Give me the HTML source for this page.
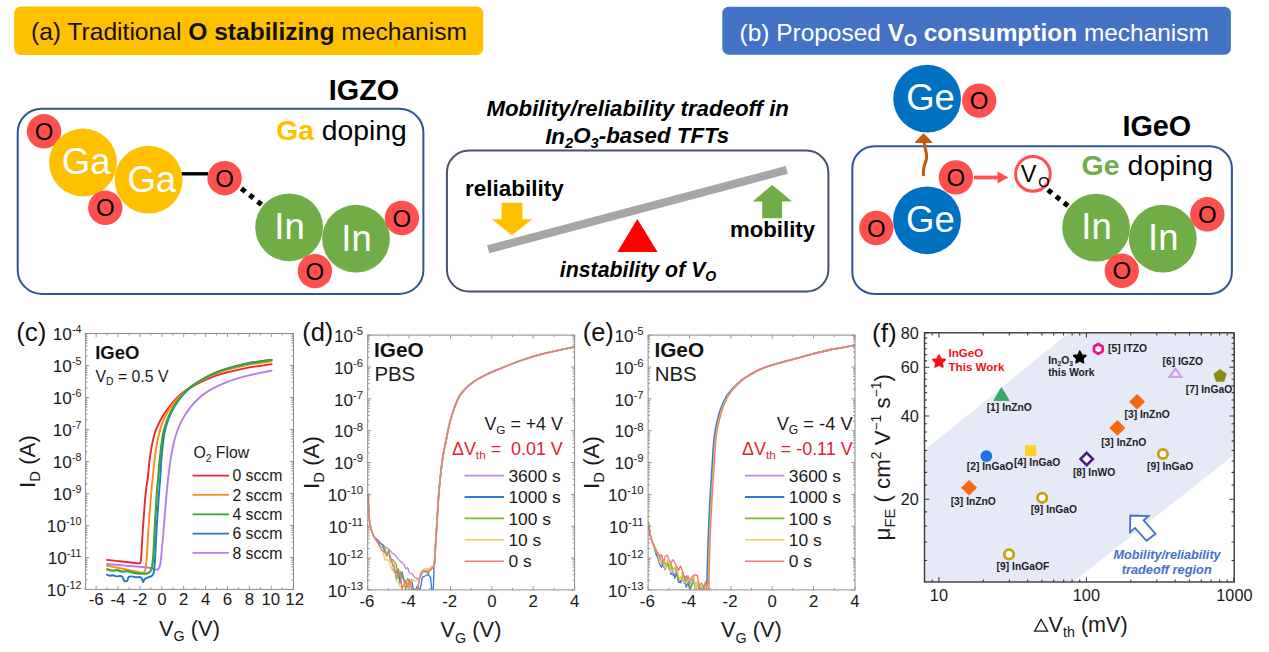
<!DOCTYPE html>
<html><head><meta charset="utf-8"><title>figure</title>
<style>html,body{margin:0;padding:0;background:#fff;overflow:hidden}svg{display:block}text{font-family:"Liberation Sans",sans-serif;white-space:pre}</style>
</head><body>
<svg width="1269" height="652" viewBox="0 0 1269 652" font-family="Liberation Sans, sans-serif">
<rect width="1269" height="652" fill="#fff"/>
<rect x="14.2" y="6.5" width="469" height="48.5" rx="6.5" fill="#FFC000"/>
<text x="31.0" y="40.3" font-size="24.6" text-anchor="start" font-weight="normal" font-style="normal" fill="#111" >(a) Traditional <tspan font-weight="bold">O stabilizing</tspan> mechanism</text>
<rect x="722.3" y="6.7" width="508.6" height="48" rx="6.5" fill="#4472C4"/>
<text x="739.6" y="40.5" font-size="24.45" text-anchor="start" font-weight="normal" font-style="normal" fill="#fff" >(b) Proposed <tspan font-weight="bold">V<tspan font-size="68%" dy="0.353em">O</tspan><tspan dy="-0.240em">&#8203;</tspan> consumption</tspan> mechanism</text>
<rect x="17.7" y="108.7" width="405.7" height="185.2" rx="24" fill="#fff" stroke="#2F5597" stroke-width="2.0"/>
<text x="328.8" y="99.5" font-size="28.8" text-anchor="start" font-weight="bold" font-style="normal" fill="#000" >IGZO</text>
<text x="276.2" y="140" font-size="28.3" text-anchor="start" font-weight="normal" font-style="normal" fill="#000" ><tspan font-weight="bold" fill="#FFC000">Ga</tspan> doping</text>
<line x1="181" y1="173.8" x2="208" y2="173.8" stroke="#000" stroke-width="3.4"/>
<rect x="232.70" y="181.20" width="5.0" height="5.0" fill="#000" transform="rotate(38.4 235.2 183.7)"/>
<rect x="240.80" y="187.60" width="5.0" height="5.0" fill="#000" transform="rotate(38.4 243.3 190.1)"/>
<rect x="249.00" y="194.00" width="5.0" height="5.0" fill="#000" transform="rotate(38.4 251.5 196.5)"/>
<rect x="257.10" y="200.50" width="5.0" height="5.0" fill="#000" transform="rotate(38.4 259.6 203.0)"/>
<circle cx="44" cy="131.3" r="17.2" fill="#FF5050" />
<text x="44" y="139.94" font-size="24" text-anchor="middle" font-weight="normal" font-style="normal" fill="#000" >O</text>
<circle cx="83" cy="162.5" r="33.9" fill="#FFC000" />
<text x="86.2" y="174.3625" font-size="36.5" text-anchor="middle" font-weight="normal" font-style="normal" fill="#fff" >Ga</text>
<circle cx="148.6" cy="179.7" r="33.9" fill="#FFC000" />
<text x="151.79999999999998" y="191.5625" font-size="36.5" text-anchor="middle" font-weight="normal" font-style="normal" fill="#fff" >Ga</text>
<circle cx="105.3" cy="207.8" r="17.2" fill="#FF5050" />
<text x="105.3" y="216.44" font-size="24" text-anchor="middle" font-weight="normal" font-style="normal" fill="#000" >O</text>
<circle cx="224.6" cy="178.2" r="17.2" fill="#FF5050" />
<text x="224.6" y="186.83999999999997" font-size="24" text-anchor="middle" font-weight="normal" font-style="normal" fill="#000" >O</text>
<circle cx="289.1" cy="227.3" r="33.9" fill="#70AD47" />
<text x="289.6" y="239.16250000000002" font-size="36.5" text-anchor="middle" font-weight="normal" font-style="normal" fill="#fff" >In</text>
<circle cx="356" cy="238.7" r="33.9" fill="#70AD47" />
<text x="356.5" y="250.5625" font-size="36.5" text-anchor="middle" font-weight="normal" font-style="normal" fill="#fff" >In</text>
<circle cx="401.9" cy="218" r="17.2" fill="#FF5050" />
<text x="401.9" y="226.64" font-size="24" text-anchor="middle" font-weight="normal" font-style="normal" fill="#000" >O</text>
<circle cx="314.9" cy="271.1" r="17.2" fill="#FF5050" />
<text x="314.9" y="279.74" font-size="24" text-anchor="middle" font-weight="normal" font-style="normal" fill="#000" >O</text>
<text x="637.7" y="116.3" font-size="22.25" text-anchor="middle" font-weight="bold" font-style="italic" fill="#000" >Mobility/reliability tradeoff in</text>
<text x="637.2" y="143.5" font-size="22.3" text-anchor="middle" font-weight="bold" font-style="italic" fill="#000" >In<tspan font-size="66%" dy="0.303em">2</tspan><tspan dy="-0.200em">&#8203;</tspan>O<tspan font-size="66%" dy="0.303em">3</tspan><tspan dy="-0.200em">&#8203;</tspan>-based TFTs</text>
<rect x="446.9" y="150.5" width="381.5" height="141.1" rx="22" fill="#fff" stroke="#44546A" stroke-width="2.0"/>
<text x="465.0" y="195.7" font-size="22.5" text-anchor="start" font-weight="bold" font-style="normal" fill="#000" >reliability</text>
<text x="730.0" y="236.9" font-size="22.2" text-anchor="start" font-weight="bold" font-style="normal" fill="#000" >mobility</text>
<text x="559.8" y="276.8" font-size="21.3" text-anchor="start" font-weight="bold" font-style="italic" fill="#000" >instability of V<tspan font-size="66%" dy="0.303em">O</tspan><tspan dy="-0.200em">&#8203;</tspan></text>
<line x1="488.2" y1="249.3" x2="786.8" y2="169.9" stroke="#A6A6A6" stroke-width="8.2"/>
<polygon points="501.6,202.7 522.4,202.7 522.4,219.3 532.3,219.3 511.9,235.3 491.8,219.3 501.6,219.3" fill="#FFC000"/>
<polygon points="637.3,219 657.6,252 617.4,252" fill="#FF0000"/>
<polygon points="772.2,185 792.2,201.6 782,201.6 782,218.2 762.2,218.2 762.2,201.6 752.5,201.6" fill="#70AD47"/>
<rect x="852.3" y="146.3" width="379.6" height="147.6" rx="22" fill="#fff" stroke="#2F5597" stroke-width="2.0"/>
<text x="1122.4" y="135.9" font-size="28.8" text-anchor="start" font-weight="bold" font-style="normal" fill="#000" >IGeO</text>
<text x="1081.6" y="175" font-size="28.5" text-anchor="start" font-weight="normal" font-style="normal" fill="#000" ><tspan font-weight="bold" fill="#70AD47">Ge</tspan> doping</text>
<path d="M923.6,176 C922.4,170 924.4,165 926.2,160 C927.9,154 924.6,149 924.2,142" fill="none" stroke="#C55A11" stroke-width="3.1"/>
<path d="M923.6,134.4 L931.4,142.2 L915.8,142.2 Z" fill="#C55A11" stroke="#C55A11" stroke-width="1.6" stroke-linejoin="round"/>
<line x1="974" y1="177.5" x2="999" y2="177.5" stroke="#FF5050" stroke-width="3.8"/>
<polygon points="997.5,171.6 1008.4,177.5 997.5,183.4" fill="#FF5050"/>
<rect x="1039.30" y="182.40" width="5.0" height="5.0" fill="#000" transform="rotate(38.7 1041.8 184.9)"/>
<rect x="1047.40" y="188.90" width="5.0" height="5.0" fill="#000" transform="rotate(38.7 1049.9 191.4)"/>
<rect x="1055.50" y="195.40" width="5.0" height="5.0" fill="#000" transform="rotate(38.7 1058 197.9)"/>
<rect x="1063.50" y="201.80" width="5.0" height="5.0" fill="#000" transform="rotate(38.7 1066 204.3)"/>
<circle cx="927.1" cy="98.6" r="33.9" fill="#0070C0" />
<text x="930.5" y="110.46249999999999" font-size="36.5" text-anchor="middle" font-weight="normal" font-style="normal" fill="#fff" >Ge</text>
<circle cx="979.2" cy="100.6" r="17.2" fill="#FF5050" />
<text x="979.2" y="109.24" font-size="24" text-anchor="middle" font-weight="normal" font-style="normal" fill="#000" >O</text>
<circle cx="927" cy="220.3" r="33.9" fill="#0070C0" />
<text x="930.4" y="232.16250000000002" font-size="36.5" text-anchor="middle" font-weight="normal" font-style="normal" fill="#fff" >Ge</text>
<circle cx="876.4" cy="228" r="17.2" fill="#FF5050" />
<text x="876.4" y="236.64" font-size="24" text-anchor="middle" font-weight="normal" font-style="normal" fill="#000" >O</text>
<circle cx="955.9" cy="177.4" r="17.2" fill="#FF5050" />
<text x="955.9" y="186.04000000000002" font-size="24" text-anchor="middle" font-weight="normal" font-style="normal" fill="#000" >O</text>
<circle cx="1032.9" cy="173.9" r="17.3" fill="#fff" stroke="#FF5050" stroke-width="3.0"/>
<text x="1020.8" y="182" font-size="23.5" text-anchor="start" font-weight="normal" font-style="normal" fill="#000" >V</text>
<text x="1038.2" y="186.8" font-size="14.5" text-anchor="start" font-weight="normal" font-style="normal" fill="#000" >O</text>
<circle cx="1096.1" cy="227.6" r="33.9" fill="#70AD47" />
<text x="1096.6" y="239.4625" font-size="36.5" text-anchor="middle" font-weight="normal" font-style="normal" fill="#fff" >In</text>
<circle cx="1162.8" cy="238.6" r="33.9" fill="#70AD47" />
<text x="1163.3" y="250.4625" font-size="36.5" text-anchor="middle" font-weight="normal" font-style="normal" fill="#fff" >In</text>
<circle cx="1207.3" cy="214.3" r="17.2" fill="#FF5050" />
<text x="1207.3" y="222.94" font-size="24" text-anchor="middle" font-weight="normal" font-style="normal" fill="#000" >O</text>
<circle cx="1121.8" cy="270.8" r="17.2" fill="#FF5050" />
<text x="1121.8" y="279.44" font-size="24" text-anchor="middle" font-weight="normal" font-style="normal" fill="#000" >O</text>
<rect x="85.6" y="333.5" width="207.9" height="255.89999999999998" fill="#fff"/>
<path d="M107.0,559.9 C109.2,560.1 117.3,561.0 122.0,561.5 C126.7,562.0 135.5,563.1 138.2,563.3 C140.9,563.5 139.9,563.5 140.3,562.6 C140.8,561.7 140.8,562.8 141.2,557.3 C141.6,551.8 142.4,535.3 143.1,525.8 C143.8,516.3 144.9,500.9 145.6,493.7 C146.3,486.5 147.1,483.7 147.8,478.0 C148.5,472.3 149.1,462.5 150.1,456.0 C151.1,449.5 152.8,440.0 154.4,434.5 C156.0,429.0 158.6,423.7 160.8,419.5 C163.1,415.3 166.5,410.3 169.4,406.6 C172.3,402.9 176.6,397.9 180.1,394.8 C183.6,391.7 187.5,389.1 193.0,386.2 C198.5,383.3 208.9,378.1 216.6,375.4 C224.3,372.7 236.3,370.1 244.6,368.4 C252.8,366.7 267.6,364.7 271.6,364.1" fill="none" stroke="#E8282E" stroke-width="1.9" stroke-linejoin="round" stroke-linecap="round"/>
<path d="M107.0,565.7 C109.0,566.1 116.2,567.5 120.0,568.2 C123.8,568.9 128.8,569.9 132.0,570.6 C135.2,571.3 139.7,572.4 141.5,572.7 C143.3,573.0 143.2,573.0 143.8,572.4 C144.4,571.8 145.2,570.8 145.6,568.5 C146.0,566.2 146.3,563.7 146.8,557.3 C147.3,550.9 148.0,535.3 148.7,525.8 C149.4,516.3 150.6,500.9 151.2,493.7 C151.8,486.5 152.1,483.7 152.7,478.0 C153.3,472.3 154.1,462.3 155.0,456.0 C155.9,449.7 157.2,441.4 158.5,436.0 C159.8,430.6 161.6,424.4 163.5,420.0 C165.4,415.6 168.3,410.5 171.0,406.6 C173.7,402.7 178.2,397.4 181.5,394.3 C184.8,391.2 187.7,388.7 193.0,385.6 C198.3,382.5 208.9,376.4 216.6,373.4 C224.3,370.4 236.3,367.3 244.6,365.5 C252.8,363.7 267.6,362.0 271.6,361.4" fill="none" stroke="#FF8C1A" stroke-width="1.9" stroke-linejoin="round" stroke-linecap="round"/>
<path d="M107.0,564.0 C109.7,564.2 118.9,565.1 125.0,565.6 C131.1,566.1 143.1,567.0 147.4,567.5 C151.7,568.0 152.1,568.6 153.5,568.9 C154.9,569.2 155.8,569.7 156.6,569.7 C157.4,569.7 158.0,569.5 158.6,568.6 C159.2,567.7 159.9,566.3 160.4,563.5 C160.9,560.7 161.4,554.3 161.8,550.0 C162.2,545.7 162.7,541.0 163.2,535.0 C163.7,529.0 164.6,517.5 165.2,510.0 C165.8,502.5 166.8,491.0 167.4,485.0 C168.0,479.0 168.7,474.1 169.2,470.0 C169.7,465.9 170.0,462.7 170.8,458.0 C171.6,453.3 173.2,444.3 174.8,438.8 C176.4,433.3 178.8,426.4 181.2,421.6 C183.6,416.8 187.2,411.0 190.9,406.6 C194.6,402.2 200.4,396.3 205.9,392.6 C211.4,388.9 221.0,384.5 227.4,381.9 C233.8,379.3 242.3,377.1 248.9,375.4 C255.5,373.7 268.2,371.2 271.6,370.5" fill="none" stroke="#B47FE8" stroke-width="1.9" stroke-linejoin="round" stroke-linecap="round"/>
<path d="M107.0,574.8 C107.5,574.9 109.1,575.7 110.0,575.8 C110.9,575.9 112.0,575.1 113.0,575.2 C114.0,575.3 116.0,576.3 117.0,576.4 C118.0,576.5 119.2,575.9 120.0,576.0 C120.8,576.1 121.9,576.2 122.5,576.9 C123.1,577.6 123.5,580.1 124.0,580.8 C124.5,581.5 125.5,581.3 126.0,581.3 C126.5,581.3 127.1,581.3 127.5,580.6 C127.9,579.9 127.9,577.5 128.6,576.9 C129.3,576.3 130.9,576.4 132.0,576.4 C133.1,576.4 134.8,577.1 136.0,577.2 C137.2,577.3 138.9,576.9 139.7,577.0 C140.5,577.1 141.1,577.4 141.6,578.2 C142.1,579.0 142.7,581.9 143.1,582.1 C143.5,582.3 143.8,580.2 144.2,579.6 C144.6,579.0 145.2,578.6 145.8,578.3 C146.4,578.0 147.2,577.6 148.0,577.3 C148.8,577.0 150.3,576.8 151.0,576.4 C151.7,576.0 152.4,575.5 152.8,574.8 C153.2,574.1 153.6,573.7 153.9,571.5 C154.2,569.3 154.6,566.9 155.0,560.0 C155.4,553.1 156.2,535.7 156.8,525.8 C157.4,515.9 158.5,500.9 159.0,493.7 C159.5,486.5 159.9,483.4 160.3,478.0 C160.7,472.6 160.9,464.5 161.5,458.0 C162.1,451.5 163.2,440.3 164.2,434.5 C165.2,428.7 166.8,423.7 168.3,419.5 C169.8,415.3 172.3,410.3 174.5,406.6 C176.7,402.9 180.1,398.0 183.0,394.8 C185.9,391.6 188.6,388.5 193.6,385.1 C198.6,381.7 208.9,375.4 216.6,372.2 C224.2,369.0 236.3,365.8 244.6,363.9 C252.8,362.0 267.6,360.2 271.6,359.6" fill="none" stroke="#1F78C8" stroke-width="1.9" stroke-linejoin="round" stroke-linecap="round"/>
<path d="M107.0,569.4 C107.8,569.6 110.5,570.5 112.0,570.6 C113.5,570.7 115.5,570.1 117.0,570.2 C118.5,570.4 120.3,571.4 122.0,571.6 C123.7,571.8 126.2,571.1 128.0,571.3 C129.8,571.5 132.0,572.4 134.0,572.8 C136.0,573.2 139.4,573.6 141.2,573.7 C143.0,573.8 144.8,573.8 146.0,573.6 C147.2,573.4 148.6,573.1 149.5,572.3 C150.4,571.5 151.2,570.2 151.8,568.0 C152.4,565.8 152.7,563.6 153.2,557.3 C153.7,551.0 154.4,535.3 154.9,525.8 C155.4,516.3 156.3,500.9 156.8,493.7 C157.3,486.5 157.7,483.4 158.2,478.0 C158.7,472.6 159.2,464.5 159.9,458.0 C160.6,451.5 161.9,440.3 163.0,434.5 C164.1,428.7 165.7,423.7 167.3,419.5 C168.9,415.3 171.4,410.3 173.7,406.6 C175.9,402.9 179.4,398.0 182.3,394.8 C185.2,391.6 187.9,388.5 193.0,385.1 C198.1,381.7 208.9,375.5 216.6,372.4 C224.3,369.3 236.3,366.2 244.6,364.3 C252.8,362.4 267.6,360.6 271.6,360.0" fill="none" stroke="#3AA33A" stroke-width="2.2" stroke-linejoin="round" stroke-linecap="round"/>
<path d="M96.1,589.4v-3.6M96.1,333.5v3.6M118.0,589.4v-3.6M118.0,333.5v3.6M139.9,589.4v-3.6M139.9,333.5v3.6M161.8,589.4v-3.6M161.8,333.5v3.6M183.7,589.4v-3.6M183.7,333.5v3.6M205.6,589.4v-3.6M205.6,333.5v3.6M227.5,589.4v-3.6M227.5,333.5v3.6M249.4,589.4v-3.6M249.4,333.5v3.6M271.3,589.4v-3.6M271.3,333.5v3.6M293.2,589.4v-3.6M293.2,333.5v3.6M85.2,589.4v-2.0M85.2,333.5v2.0M107.1,589.4v-2.0M107.1,333.5v2.0M129.0,589.4v-2.0M129.0,333.5v2.0M150.9,589.4v-2.0M150.9,333.5v2.0M172.8,589.4v-2.0M172.8,333.5v2.0M194.7,589.4v-2.0M194.7,333.5v2.0M216.6,589.4v-2.0M216.6,333.5v2.0M238.4,589.4v-2.0M238.4,333.5v2.0M260.4,589.4v-2.0M260.4,333.5v2.0M282.2,589.4v-2.0M282.2,333.5v2.0M85.6,333.5h3.6M293.5,333.5h-3.6M85.6,365.5h3.6M293.5,365.5h-3.6M85.6,397.5h3.6M293.5,397.5h-3.6M85.6,429.5h3.6M293.5,429.5h-3.6M85.6,461.5h3.6M293.5,461.5h-3.6M85.6,493.5h3.6M293.5,493.5h-3.6M85.6,525.5h3.6M293.5,525.5h-3.6M85.6,557.5h3.6M293.5,557.5h-3.6M85.6,589.5h3.6M293.5,589.5h-3.6M85.6,355.9h2.0M293.5,355.9h-2.0M85.6,350.2h2.0M293.5,350.2h-2.0M85.6,346.2h2.0M293.5,346.2h-2.0M85.6,343.1h2.0M293.5,343.1h-2.0M85.6,340.6h2.0M293.5,340.6h-2.0M85.6,338.5h2.0M293.5,338.5h-2.0M85.6,336.6h2.0M293.5,336.6h-2.0M85.6,335.0h2.0M293.5,335.0h-2.0M85.6,387.9h2.0M293.5,387.9h-2.0M85.6,382.2h2.0M293.5,382.2h-2.0M85.6,378.2h2.0M293.5,378.2h-2.0M85.6,375.1h2.0M293.5,375.1h-2.0M85.6,372.6h2.0M293.5,372.6h-2.0M85.6,370.5h2.0M293.5,370.5h-2.0M85.6,368.6h2.0M293.5,368.6h-2.0M85.6,367.0h2.0M293.5,367.0h-2.0M85.6,419.9h2.0M293.5,419.9h-2.0M85.6,414.2h2.0M293.5,414.2h-2.0M85.6,410.2h2.0M293.5,410.2h-2.0M85.6,407.1h2.0M293.5,407.1h-2.0M85.6,404.6h2.0M293.5,404.6h-2.0M85.6,402.5h2.0M293.5,402.5h-2.0M85.6,400.6h2.0M293.5,400.6h-2.0M85.6,399.0h2.0M293.5,399.0h-2.0M85.6,451.9h2.0M293.5,451.9h-2.0M85.6,446.2h2.0M293.5,446.2h-2.0M85.6,442.2h2.0M293.5,442.2h-2.0M85.6,439.1h2.0M293.5,439.1h-2.0M85.6,436.6h2.0M293.5,436.6h-2.0M85.6,434.5h2.0M293.5,434.5h-2.0M85.6,432.6h2.0M293.5,432.6h-2.0M85.6,431.0h2.0M293.5,431.0h-2.0M85.6,483.9h2.0M293.5,483.9h-2.0M85.6,478.2h2.0M293.5,478.2h-2.0M85.6,474.2h2.0M293.5,474.2h-2.0M85.6,471.1h2.0M293.5,471.1h-2.0M85.6,468.6h2.0M293.5,468.6h-2.0M85.6,466.5h2.0M293.5,466.5h-2.0M85.6,464.6h2.0M293.5,464.6h-2.0M85.6,463.0h2.0M293.5,463.0h-2.0M85.6,515.9h2.0M293.5,515.9h-2.0M85.6,510.2h2.0M293.5,510.2h-2.0M85.6,506.2h2.0M293.5,506.2h-2.0M85.6,503.1h2.0M293.5,503.1h-2.0M85.6,500.6h2.0M293.5,500.6h-2.0M85.6,498.5h2.0M293.5,498.5h-2.0M85.6,496.6h2.0M293.5,496.6h-2.0M85.6,495.0h2.0M293.5,495.0h-2.0M85.6,547.9h2.0M293.5,547.9h-2.0M85.6,542.2h2.0M293.5,542.2h-2.0M85.6,538.2h2.0M293.5,538.2h-2.0M85.6,535.1h2.0M293.5,535.1h-2.0M85.6,532.6h2.0M293.5,532.6h-2.0M85.6,530.5h2.0M293.5,530.5h-2.0M85.6,528.6h2.0M293.5,528.6h-2.0M85.6,527.0h2.0M293.5,527.0h-2.0M85.6,579.9h2.0M293.5,579.9h-2.0M85.6,574.2h2.0M293.5,574.2h-2.0M85.6,570.2h2.0M293.5,570.2h-2.0M85.6,567.1h2.0M293.5,567.1h-2.0M85.6,564.6h2.0M293.5,564.6h-2.0M85.6,562.5h2.0M293.5,562.5h-2.0M85.6,560.6h2.0M293.5,560.6h-2.0M85.6,559.0h2.0M293.5,559.0h-2.0" stroke="#8c8c8c" stroke-width="0.9" fill="none"/>
<rect x="85.6" y="333.5" width="207.9" height="255.89999999999998" fill="none" stroke="#8c8c8c" stroke-width="1.0"/>
<text x="81.4" y="340.122" font-size="17.2" text-anchor="end" font-weight="normal" font-style="normal" fill="#1a1a1a" >10<tspan font-size="62%" dy="-0.645em">-4</tspan><tspan dy="0.400em">&#8203;</tspan></text>
<text x="81.4" y="372.122" font-size="17.2" text-anchor="end" font-weight="normal" font-style="normal" fill="#1a1a1a" >10<tspan font-size="62%" dy="-0.645em">-5</tspan><tspan dy="0.400em">&#8203;</tspan></text>
<text x="81.4" y="404.122" font-size="17.2" text-anchor="end" font-weight="normal" font-style="normal" fill="#1a1a1a" >10<tspan font-size="62%" dy="-0.645em">-6</tspan><tspan dy="0.400em">&#8203;</tspan></text>
<text x="81.4" y="436.122" font-size="17.2" text-anchor="end" font-weight="normal" font-style="normal" fill="#1a1a1a" >10<tspan font-size="62%" dy="-0.645em">-7</tspan><tspan dy="0.400em">&#8203;</tspan></text>
<text x="81.4" y="468.122" font-size="17.2" text-anchor="end" font-weight="normal" font-style="normal" fill="#1a1a1a" >10<tspan font-size="62%" dy="-0.645em">-8</tspan><tspan dy="0.400em">&#8203;</tspan></text>
<text x="81.4" y="500.122" font-size="17.2" text-anchor="end" font-weight="normal" font-style="normal" fill="#1a1a1a" >10<tspan font-size="62%" dy="-0.645em">-9</tspan><tspan dy="0.400em">&#8203;</tspan></text>
<text x="81.4" y="532.122" font-size="17.2" text-anchor="end" font-weight="normal" font-style="normal" fill="#1a1a1a" >10<tspan font-size="62%" dy="-0.645em">-10</tspan><tspan dy="0.400em">&#8203;</tspan></text>
<text x="81.4" y="564.122" font-size="17.2" text-anchor="end" font-weight="normal" font-style="normal" fill="#1a1a1a" >10<tspan font-size="62%" dy="-0.645em">-11</tspan><tspan dy="0.400em">&#8203;</tspan></text>
<text x="81.4" y="596.122" font-size="17.2" text-anchor="end" font-weight="normal" font-style="normal" fill="#1a1a1a" >10<tspan font-size="62%" dy="-0.645em">-12</tspan><tspan dy="0.400em">&#8203;</tspan></text>
<text x="96.10000000000002" y="605.3" font-size="16.8" text-anchor="middle" font-weight="normal" font-style="normal" fill="#1a1a1a" >-6</text>
<text x="118.00000000000001" y="605.3" font-size="16.8" text-anchor="middle" font-weight="normal" font-style="normal" fill="#1a1a1a" >-4</text>
<text x="139.9" y="605.3" font-size="16.8" text-anchor="middle" font-weight="normal" font-style="normal" fill="#1a1a1a" >-2</text>
<text x="161.8" y="605.3" font-size="16.8" text-anchor="middle" font-weight="normal" font-style="normal" fill="#1a1a1a" >0</text>
<text x="183.70000000000002" y="605.3" font-size="16.8" text-anchor="middle" font-weight="normal" font-style="normal" fill="#1a1a1a" >2</text>
<text x="205.60000000000002" y="605.3" font-size="16.8" text-anchor="middle" font-weight="normal" font-style="normal" fill="#1a1a1a" >4</text>
<text x="227.5" y="605.3" font-size="16.8" text-anchor="middle" font-weight="normal" font-style="normal" fill="#1a1a1a" >6</text>
<text x="249.4" y="605.3" font-size="16.8" text-anchor="middle" font-weight="normal" font-style="normal" fill="#1a1a1a" >8</text>
<text x="270.8" y="605.3" font-size="16.8" text-anchor="middle" font-weight="normal" font-style="normal" fill="#1a1a1a" >10</text>
<text x="294.7" y="605.3" font-size="16.8" text-anchor="middle" font-weight="normal" font-style="normal" fill="#1a1a1a" >12</text>
<text x="189.5" y="636.2" font-size="21.8" text-anchor="middle" font-weight="normal" font-style="normal" fill="#1a1a1a" >V<tspan font-size="66%" dy="0.364em">G</tspan><tspan dy="-0.240em">&#8203;</tspan> (V)</text>
<text x="0" y="0" font-size="22.3" text-anchor="middle" font-weight="normal" font-style="normal" fill="#1a1a1a" transform="translate(34.6,461.5) rotate(-90)">I<tspan font-size="66%" dy="0.364em">D</tspan><tspan dy="-0.240em">&#8203;</tspan> (A)</text>
<text x="16.2" y="340.6" font-size="26" text-anchor="start" font-weight="normal" font-style="normal" fill="#111" >(c)</text>
<text x="95.2" y="358.6" font-size="18.5" text-anchor="start" font-weight="bold" font-style="normal" fill="#111" >IGeO</text>
<text x="95.5" y="381.5" font-size="15.8" text-anchor="start" font-weight="normal" font-style="normal" fill="#1a1a1a" >V<tspan font-size="66%" dy="0.364em">D</tspan><tspan dy="-0.240em">&#8203;</tspan> = 0.5 V</text>
<text x="193.4" y="458.3" font-size="15.8" text-anchor="start" font-weight="normal" font-style="normal" fill="#1a1a1a" >O<tspan font-size="66%" dy="0.364em">2</tspan><tspan dy="-0.240em">&#8203;</tspan> Flow</text>
<line x1="192.5" y1="475.6" x2="229" y2="475.6" stroke="#E8282E" stroke-width="1.7"/>
<text x="232.4" y="481.3" font-size="15.8" text-anchor="start" font-weight="normal" font-style="normal" fill="#1a1a1a" >0 sccm</text>
<line x1="192.5" y1="494.9" x2="229" y2="494.9" stroke="#FF8C1A" stroke-width="1.7"/>
<text x="232.4" y="500.63" font-size="15.8" text-anchor="start" font-weight="normal" font-style="normal" fill="#1a1a1a" >2 sccm</text>
<line x1="192.5" y1="514.3" x2="229" y2="514.3" stroke="#3AA33A" stroke-width="1.7"/>
<text x="232.4" y="519.96" font-size="15.8" text-anchor="start" font-weight="normal" font-style="normal" fill="#1a1a1a" >4 sccm</text>
<line x1="192.5" y1="533.6" x2="229" y2="533.6" stroke="#1F78C8" stroke-width="1.7"/>
<text x="232.4" y="539.2900000000001" font-size="15.8" text-anchor="start" font-weight="normal" font-style="normal" fill="#1a1a1a" >6 sccm</text>
<line x1="192.5" y1="552.9" x2="229" y2="552.9" stroke="#B47FE8" stroke-width="1.7"/>
<text x="232.4" y="558.6200000000001" font-size="15.8" text-anchor="start" font-weight="normal" font-style="normal" fill="#1a1a1a" >8 sccm</text>
<rect x="367.7" y="335.1" width="206.9" height="254.8" fill="#fff"/>
<clipPath id="clipd"><rect x="367.7" y="335.1" width="206.9" height="254.8"/></clipPath>
<g clip-path="url(#clipd)">
<path d="M367.8,493.5 L369.7,523.8 L371.6,530.9 L373.5,535.4 L375.4,538.4 L377.3,540.0 L379.2,541.4 L381.1,543.6 L383.0,544.7 L384.9,546.7 L386.8,547.8 L388.7,549.3 L390.6,551.3 L392.5,553.4 L394.4,554.4 L396.3,556.5 L398.2,558.9 L400.1,561.1 L402.0,562.6 L403.9,564.4 L405.8,568.8 L407.7,567.6 L409.6,573.2 L411.5,573.4 L413.4,575.3 L415.3,577.8 L419.5,579.0 L421.0,575.6 L423.5,570.4 L426.0,570.4 L428.5,571.7 L431.0,567.9 L433.0,568.2 L434.0,568.0 " fill="none" stroke="#B68AE8" stroke-width="1.35" stroke-linejoin="round"/>
<path d="M574.6,346.9 C570.2,347.8 553.6,351.2 545.5,353.2 C537.4,355.2 528.3,357.9 520.9,360.5 C513.5,363.1 502.3,367.7 496.4,370.2 C490.5,372.7 485.3,375.1 481.6,377.0 C477.9,378.9 474.4,381.0 471.8,382.9 C469.2,384.8 466.3,387.9 464.5,389.9 C462.7,391.9 461.0,393.4 459.5,396.0 C458.0,398.6 456.1,402.9 454.6,407.0 C453.1,411.1 451.0,418.0 449.7,423.0 C448.4,428.0 447.2,434.7 446.1,440.2 C445.0,445.7 443.2,454.6 442.4,459.8 C441.6,465.0 441.2,469.8 440.6,475.0 C440.0,480.2 439.3,486.9 438.7,494.6 C438.1,502.3 437.3,517.1 436.7,526.6 C436.1,536.1 435.2,552.0 434.8,558.2 C434.4,564.4 434.1,566.5 434.0,568.0" fill="none" stroke="#B68AE8" stroke-width="1.3" stroke-linejoin="round"/>
<path d="M367.8,493.4 L369.7,523.8 L371.6,530.5 L373.5,536.1 L375.4,538.3 L377.3,539.8 L379.2,542.5 L381.1,544.0 L383.0,545.4 L384.9,552.6 L386.8,554.8 L388.7,551.3 L390.6,560.3 L392.5,563.2 L394.4,572.1 L396.3,573.0 L398.2,569.2 L400.1,583.1 L402.0,571.9 L403.9,579.2 L405.8,586.7 L407.7,578.6 L409.6,585.4 L411.5,579.7 L413.4,589.3 L415.3,590.2 L417.2,586.4 L420.0,589.9 L422.5,577.1 L425.0,576.0 L428.0,574.5 L430.5,577.4 L432.0,591.8 L433.2,593.7 L434.0,568.0 " fill="none" stroke="#2F7BE0" stroke-width="1.35" stroke-linejoin="round"/>
<path d="M574.6,346.9 C570.2,347.8 553.6,351.2 545.5,353.2 C537.4,355.2 528.3,357.9 520.9,360.5 C513.5,363.1 502.3,367.7 496.4,370.2 C490.5,372.7 485.3,375.1 481.6,377.0 C477.9,378.9 474.4,381.0 471.8,382.9 C469.2,384.8 466.3,387.9 464.5,389.9 C462.7,391.9 461.0,393.4 459.5,396.0 C458.0,398.6 456.1,402.9 454.6,407.0 C453.1,411.1 451.0,418.0 449.7,423.0 C448.4,428.0 447.2,434.7 446.1,440.2 C445.0,445.7 443.2,454.6 442.4,459.8 C441.6,465.0 441.2,469.8 440.6,475.0 C440.0,480.2 439.3,486.9 438.7,494.6 C438.1,502.3 437.3,517.1 436.7,526.6 C436.1,536.1 435.2,552.0 434.8,558.2 C434.4,564.4 434.1,566.5 434.0,568.0" fill="none" stroke="#2F7BE0" stroke-width="1.8" stroke-linejoin="round"/>
<path d="M367.8,494.1 L369.7,524.2 L371.6,530.8 L373.5,535.6 L375.4,539.6 L377.3,541.9 L379.2,545.4 L381.1,547.1 L383.0,547.4 L384.9,548.1 L386.8,556.3 L388.7,549.7 L390.6,560.5 L392.5,559.5 L394.4,561.9 L396.3,564.3 L398.2,578.9 L400.1,571.5 L402.0,576.0 L403.9,580.8 L405.8,590.3 L407.7,578.6 L409.6,585.4 L411.5,587.9 L413.4,592.7 L415.3,591.0 L417.2,591.1 L419.5,578.9 L421.0,573.6 L423.5,571.3 L426.0,571.9 L428.5,573.3 L431.0,566.8 L433.0,566.4 L434.0,568.0 " fill="none" stroke="#7DBB2A" stroke-width="1.35" stroke-linejoin="round"/>
<path d="M574.6,346.9 C570.2,347.8 553.6,351.2 545.5,353.2 C537.4,355.2 528.3,357.9 520.9,360.5 C513.5,363.1 502.3,367.7 496.4,370.2 C490.5,372.7 485.3,375.1 481.6,377.0 C477.9,378.9 474.4,381.0 471.8,382.9 C469.2,384.8 466.3,387.9 464.5,389.9 C462.7,391.9 461.0,393.4 459.5,396.0 C458.0,398.6 456.1,402.9 454.6,407.0 C453.1,411.1 451.0,418.0 449.7,423.0 C448.4,428.0 447.2,434.7 446.1,440.2 C445.0,445.7 443.2,454.6 442.4,459.8 C441.6,465.0 441.2,469.8 440.6,475.0 C440.0,480.2 439.3,486.9 438.7,494.6 C438.1,502.3 437.3,517.1 436.7,526.6 C436.1,536.1 435.2,552.0 434.8,558.2 C434.4,564.4 434.1,566.5 434.0,568.0" fill="none" stroke="#7DBB2A" stroke-width="1.3" stroke-linejoin="round"/>
<path d="M367.8,493.5 L369.7,524.0 L371.6,530.7 L373.5,536.0 L375.4,539.0 L377.3,541.6 L379.2,546.3 L381.1,548.7 L383.0,551.2 L384.9,560.1 L386.8,559.6 L388.7,560.6 L390.6,566.0 L392.5,570.6 L394.4,563.9 L396.3,580.7 L398.2,582.1 L400.1,586.5 L402.0,587.8 L403.9,583.8 L405.8,585.4 L407.7,580.7 L409.6,589.3 L411.5,580.2 L413.4,579.7 L415.3,581.3 L417.2,579.9 L419.5,579.2 L421.0,571.8 L423.5,569.5 L426.0,568.3 L428.5,569.0 L431.0,567.8 L433.0,565.6 L434.0,568.0 " fill="none" stroke="#F2CC55" stroke-width="1.35" stroke-linejoin="round"/>
<path d="M574.6,346.9 C570.2,347.8 553.6,351.2 545.5,353.2 C537.4,355.2 528.3,357.9 520.9,360.5 C513.5,363.1 502.3,367.7 496.4,370.2 C490.5,372.7 485.3,375.1 481.6,377.0 C477.9,378.9 474.4,381.0 471.8,382.9 C469.2,384.8 466.3,387.9 464.5,389.9 C462.7,391.9 461.0,393.4 459.5,396.0 C458.0,398.6 456.1,402.9 454.6,407.0 C453.1,411.1 451.0,418.0 449.7,423.0 C448.4,428.0 447.2,434.7 446.1,440.2 C445.0,445.7 443.2,454.6 442.4,459.8 C441.6,465.0 441.2,469.8 440.6,475.0 C440.0,480.2 439.3,486.9 438.7,494.6 C438.1,502.3 437.3,517.1 436.7,526.6 C436.1,536.1 435.2,552.0 434.8,558.2 C434.4,564.4 434.1,566.5 434.0,568.0" fill="none" stroke="#F2CC55" stroke-width="1.3" stroke-linejoin="round"/>
<path d="M367.8,494.0 L369.7,524.3 L371.6,530.4 L373.5,535.7 L375.4,539.0 L377.3,542.2 L379.2,544.6 L381.1,549.1 L383.0,551.5 L384.9,551.4 L386.8,555.3 L388.7,552.7 L390.6,556.8 L392.5,564.3 L394.4,566.3 L396.3,578.6 L398.2,571.2 L400.1,571.8 L402.0,589.2 L403.9,585.0 L405.8,580.5 L407.7,587.2 L409.6,579.3 L411.5,587.6 L413.4,592.9 L415.3,591.7 L417.2,588.4 L419.5,578.8 L421.0,573.3 L423.5,570.3 L426.0,571.4 L428.5,571.2 L431.0,569.9 L433.0,567.1 L434.0,568.0 " fill="none" stroke="#F07A78" stroke-width="1.35" stroke-linejoin="round"/>
<path d="M574.6,346.9 C570.2,347.8 553.6,351.2 545.5,353.2 C537.4,355.2 528.3,357.9 520.9,360.5 C513.5,363.1 502.3,367.7 496.4,370.2 C490.5,372.7 485.3,375.1 481.6,377.0 C477.9,378.9 474.4,381.0 471.8,382.9 C469.2,384.8 466.3,387.9 464.5,389.9 C462.7,391.9 461.0,393.4 459.5,396.0 C458.0,398.6 456.1,402.9 454.6,407.0 C453.1,411.1 451.0,418.0 449.7,423.0 C448.4,428.0 447.2,434.7 446.1,440.2 C445.0,445.7 443.2,454.6 442.4,459.8 C441.6,465.0 441.2,469.8 440.6,475.0 C440.0,480.2 439.3,486.9 438.7,494.6 C438.1,502.3 437.3,517.1 436.7,526.6 C436.1,536.1 435.2,552.0 434.8,558.2 C434.4,564.4 434.1,566.5 434.0,568.0" fill="none" stroke="#F07A78" stroke-width="1.3" stroke-linejoin="round"/>
</g>
<path d="M367.7,589.9v-3.6M367.7,335.1v3.6M409.1,589.9v-3.6M409.1,335.1v3.6M450.5,589.9v-3.6M450.5,335.1v3.6M491.8,589.9v-3.6M491.8,335.1v3.6M533.2,589.9v-3.6M533.2,335.1v3.6M574.6,589.9v-3.6M574.6,335.1v3.6M388.4,589.9v-2.0M388.4,335.1v2.0M429.8,589.9v-2.0M429.8,335.1v2.0M471.1,589.9v-2.0M471.1,335.1v2.0M512.5,589.9v-2.0M512.5,335.1v2.0M553.9,589.9v-2.0M553.9,335.1v2.0M367.7,335.1h3.6M574.6,335.1h-3.6M367.7,367.0h3.6M574.6,367.0h-3.6M367.7,398.8h3.6M574.6,398.8h-3.6M367.7,430.7h3.6M574.6,430.7h-3.6M367.7,462.5h3.6M574.6,462.5h-3.6M367.7,494.4h3.6M574.6,494.4h-3.6M367.7,526.2h3.6M574.6,526.2h-3.6M367.7,558.1h3.6M574.6,558.1h-3.6M367.7,589.9h3.6M574.6,589.9h-3.6M367.7,357.4h2.0M574.6,357.4h-2.0M367.7,351.8h2.0M574.6,351.8h-2.0M367.7,347.8h2.0M574.6,347.8h-2.0M367.7,344.7h2.0M574.6,344.7h-2.0M367.7,342.2h2.0M574.6,342.2h-2.0M367.7,340.0h2.0M574.6,340.0h-2.0M367.7,338.2h2.0M574.6,338.2h-2.0M367.7,336.6h2.0M574.6,336.6h-2.0M367.7,389.2h2.0M574.6,389.2h-2.0M367.7,383.6h2.0M574.6,383.6h-2.0M367.7,379.6h2.0M574.6,379.6h-2.0M367.7,376.5h2.0M574.6,376.5h-2.0M367.7,374.0h2.0M574.6,374.0h-2.0M367.7,371.9h2.0M574.6,371.9h-2.0M367.7,370.0h2.0M574.6,370.0h-2.0M367.7,368.4h2.0M574.6,368.4h-2.0M367.7,421.1h2.0M574.6,421.1h-2.0M367.7,415.5h2.0M574.6,415.5h-2.0M367.7,411.5h2.0M574.6,411.5h-2.0M367.7,408.4h2.0M574.6,408.4h-2.0M367.7,405.9h2.0M574.6,405.9h-2.0M367.7,403.7h2.0M574.6,403.7h-2.0M367.7,401.9h2.0M574.6,401.9h-2.0M367.7,400.3h2.0M574.6,400.3h-2.0M367.7,452.9h2.0M574.6,452.9h-2.0M367.7,447.3h2.0M574.6,447.3h-2.0M367.7,443.3h2.0M574.6,443.3h-2.0M367.7,440.2h2.0M574.6,440.2h-2.0M367.7,437.7h2.0M574.6,437.7h-2.0M367.7,435.6h2.0M574.6,435.6h-2.0M367.7,433.7h2.0M574.6,433.7h-2.0M367.7,432.1h2.0M574.6,432.1h-2.0M367.7,484.8h2.0M574.6,484.8h-2.0M367.7,479.2h2.0M574.6,479.2h-2.0M367.7,475.2h2.0M574.6,475.2h-2.0M367.7,472.1h2.0M574.6,472.1h-2.0M367.7,469.6h2.0M574.6,469.6h-2.0M367.7,467.4h2.0M574.6,467.4h-2.0M367.7,465.6h2.0M574.6,465.6h-2.0M367.7,464.0h2.0M574.6,464.0h-2.0M367.7,516.6h2.0M574.6,516.6h-2.0M367.7,511.0h2.0M574.6,511.0h-2.0M367.7,507.0h2.0M574.6,507.0h-2.0M367.7,503.9h2.0M574.6,503.9h-2.0M367.7,501.4h2.0M574.6,501.4h-2.0M367.7,499.3h2.0M574.6,499.3h-2.0M367.7,497.4h2.0M574.6,497.4h-2.0M367.7,495.8h2.0M574.6,495.8h-2.0M367.7,548.5h2.0M574.6,548.5h-2.0M367.7,542.9h2.0M574.6,542.9h-2.0M367.7,538.9h2.0M574.6,538.9h-2.0M367.7,535.8h2.0M574.6,535.8h-2.0M367.7,533.3h2.0M574.6,533.3h-2.0M367.7,531.1h2.0M574.6,531.1h-2.0M367.7,529.3h2.0M574.6,529.3h-2.0M367.7,527.7h2.0M574.6,527.7h-2.0M367.7,580.3h2.0M574.6,580.3h-2.0M367.7,574.7h2.0M574.6,574.7h-2.0M367.7,570.7h2.0M574.6,570.7h-2.0M367.7,567.6h2.0M574.6,567.6h-2.0M367.7,565.1h2.0M574.6,565.1h-2.0M367.7,563.0h2.0M574.6,563.0h-2.0M367.7,561.1h2.0M574.6,561.1h-2.0M367.7,559.5h2.0M574.6,559.5h-2.0" stroke="#8c8c8c" stroke-width="0.9" fill="none"/>
<rect x="367.7" y="335.1" width="206.90000000000003" height="254.79999999999995" fill="none" stroke="#8c8c8c" stroke-width="1.0"/>
<text x="363.2" y="341.922" font-size="17.2" text-anchor="end" font-weight="normal" font-style="normal" fill="#1a1a1a" >10<tspan font-size="66%" dy="-0.606em">-5</tspan><tspan dy="0.400em">&#8203;</tspan></text>
<text x="363.2" y="373.77200000000005" font-size="17.2" text-anchor="end" font-weight="normal" font-style="normal" fill="#1a1a1a" >10<tspan font-size="66%" dy="-0.606em">-6</tspan><tspan dy="0.400em">&#8203;</tspan></text>
<text x="363.2" y="405.622" font-size="17.2" text-anchor="end" font-weight="normal" font-style="normal" fill="#1a1a1a" >10<tspan font-size="66%" dy="-0.606em">-7</tspan><tspan dy="0.400em">&#8203;</tspan></text>
<text x="363.2" y="437.47200000000004" font-size="17.2" text-anchor="end" font-weight="normal" font-style="normal" fill="#1a1a1a" >10<tspan font-size="66%" dy="-0.606em">-8</tspan><tspan dy="0.400em">&#8203;</tspan></text>
<text x="363.2" y="469.32200000000006" font-size="17.2" text-anchor="end" font-weight="normal" font-style="normal" fill="#1a1a1a" >10<tspan font-size="66%" dy="-0.606em">-9</tspan><tspan dy="0.400em">&#8203;</tspan></text>
<text x="363.2" y="501.172" font-size="17.2" text-anchor="end" font-weight="normal" font-style="normal" fill="#1a1a1a" >10<tspan font-size="66%" dy="-0.606em">-10</tspan><tspan dy="0.400em">&#8203;</tspan></text>
<text x="363.2" y="533.022" font-size="17.2" text-anchor="end" font-weight="normal" font-style="normal" fill="#1a1a1a" >10<tspan font-size="66%" dy="-0.606em">-11</tspan><tspan dy="0.400em">&#8203;</tspan></text>
<text x="363.2" y="564.872" font-size="17.2" text-anchor="end" font-weight="normal" font-style="normal" fill="#1a1a1a" >10<tspan font-size="66%" dy="-0.606em">-12</tspan><tspan dy="0.400em">&#8203;</tspan></text>
<text x="363.2" y="596.722" font-size="17.2" text-anchor="end" font-weight="normal" font-style="normal" fill="#1a1a1a" >10<tspan font-size="66%" dy="-0.606em">-13</tspan><tspan dy="0.400em">&#8203;</tspan></text>
<text x="366.9" y="606.8" font-size="16.8" text-anchor="middle" font-weight="normal" font-style="normal" fill="#1a1a1a" >-6</text>
<text x="408.28" y="606.8" font-size="16.8" text-anchor="middle" font-weight="normal" font-style="normal" fill="#1a1a1a" >-4</text>
<text x="449.65999999999997" y="606.8" font-size="16.8" text-anchor="middle" font-weight="normal" font-style="normal" fill="#1a1a1a" >-2</text>
<text x="491.84000000000003" y="606.8" font-size="16.8" text-anchor="middle" font-weight="normal" font-style="normal" fill="#1a1a1a" >0</text>
<text x="533.22" y="606.8" font-size="16.8" text-anchor="middle" font-weight="normal" font-style="normal" fill="#1a1a1a" >2</text>
<text x="574.6" y="606.8" font-size="16.8" text-anchor="middle" font-weight="normal" font-style="normal" fill="#1a1a1a" >4</text>
<text x="471" y="637.4" font-size="21.8" text-anchor="middle" font-weight="normal" font-style="normal" fill="#1a1a1a" >V<tspan font-size="66%" dy="0.364em">G</tspan><tspan dy="-0.240em">&#8203;</tspan> (V)</text>
<text x="0" y="0" font-size="22.3" text-anchor="middle" font-weight="normal" font-style="normal" fill="#1a1a1a" transform="translate(318.6,462.5) rotate(-90)">I<tspan font-size="66%" dy="0.364em">D</tspan><tspan dy="-0.240em">&#8203;</tspan> (A)</text>
<text x="302.3" y="340.8" font-size="25.4" text-anchor="start" font-weight="normal" font-style="normal" fill="#111" >(d)</text>
<text x="374.0" y="356.6" font-size="20.8" text-anchor="start" font-weight="bold" font-style="normal" fill="#111" >IGeO</text>
<text x="374.4" y="381.3" font-size="20.4" text-anchor="start" font-weight="normal" font-style="normal" fill="#1a1a1a" >PBS</text>
<text x="562.8" y="429.9" font-size="17.8" text-anchor="end" font-weight="normal" font-style="normal" fill="#1a1a1a" >V<tspan font-size="66%" dy="0.364em">G</tspan><tspan dy="-0.240em">&#8203;</tspan> = +4 V</text>
<text x="562.8" y="455.0" font-size="17.9" text-anchor="end" font-weight="normal" font-style="normal" fill="#E0242C" >&#916;V<tspan font-size="66%" dy="0.364em">th</tspan><tspan dy="-0.240em">&#8203;</tspan> =  0.01 V</text>
<line x1="464.6" y1="475.6" x2="504" y2="475.6" stroke="#B68AE8" stroke-width="1.6"/>
<text x="508.4" y="481.70000000000005" font-size="17.4" text-anchor="start" font-weight="normal" font-style="normal" fill="#1a1a1a" >3600 s</text>
<line x1="464.6" y1="497.0" x2="504" y2="497.0" stroke="#2F7BE0" stroke-width="2.0"/>
<text x="508.4" y="503.1" font-size="17.4" text-anchor="start" font-weight="normal" font-style="normal" fill="#1a1a1a" >1000 s</text>
<line x1="464.6" y1="518.4" x2="504" y2="518.4" stroke="#7DBB2A" stroke-width="1.6"/>
<text x="508.4" y="524.5" font-size="17.4" text-anchor="start" font-weight="normal" font-style="normal" fill="#1a1a1a" >100 s</text>
<line x1="464.6" y1="539.8" x2="504" y2="539.8" stroke="#F2CC55" stroke-width="1.6"/>
<text x="508.4" y="545.9" font-size="17.4" text-anchor="start" font-weight="normal" font-style="normal" fill="#1a1a1a" >10 s</text>
<line x1="464.6" y1="561.2" x2="504" y2="561.2" stroke="#F07A78" stroke-width="1.6"/>
<text x="508.4" y="567.3000000000001" font-size="17.4" text-anchor="start" font-weight="normal" font-style="normal" fill="#1a1a1a" >0 s</text>
<rect x="648.0999999999999" y="335.1" width="206.9" height="254.8" fill="#fff"/>
<clipPath id="clipe"><rect x="648.0999999999999" y="335.1" width="206.9" height="254.8"/></clipPath>
<g clip-path="url(#clipe)">
<path d="M648.2,521.5 L650.1,533.9 L652.0,542.3 L653.9,547.1 L655.8,550.9 L657.7,555.1 L659.6,555.0 L661.5,563.5 L663.4,566.4 L665.3,569.8 L667.2,562.1 L669.1,566.1 L671.0,564.7 L672.9,575.4 L674.8,575.2 L676.7,568.1 L678.6,581.7 L680.5,582.8 L682.4,580.1 L684.3,581.0 L686.2,576.4 L688.1,575.8 L690.0,583.7 L691.9,578.8 L693.8,581.7 L695.7,583.6 L697.6,581.9 L699.5,587.5 L701.4,587.2 L703.3,592.5 L705.2,588.5 L707.1,590.6 L707.3,592.0 " fill="none" stroke="#B68AE8" stroke-width="1.35" stroke-linejoin="round"/>
<path d="M855.4,345.2 C851.4,345.9 836.1,348.5 828.9,350.0 C821.7,351.5 813.9,353.7 807.4,355.4 C800.9,357.1 792.4,359.4 785.9,361.2 C779.4,363.0 769.2,365.9 764.4,367.6 C759.6,369.3 756.9,370.8 753.7,372.6 C750.4,374.4 745.7,377.2 742.7,379.5 C739.7,381.8 736.1,385.1 733.8,387.6 C731.4,390.1 728.8,393.1 726.9,396.2 C725.1,399.3 722.8,404.3 721.4,408.0 C720.0,411.7 718.7,416.7 717.7,420.9 C716.7,425.1 715.5,431.1 714.9,435.9 C714.3,440.7 713.8,447.2 713.4,453.1 C713.0,459.0 712.5,468.8 712.1,475.0 C711.7,481.2 711.2,486.9 710.8,494.6 C710.4,502.3 709.6,517.1 709.2,526.6 C708.8,536.1 708.4,548.4 708.1,558.2 C707.8,568.0 707.4,586.9 707.3,592.0" fill="none" stroke="#B68AE8" stroke-width="1.3" stroke-linejoin="round"/>
<path d="M648.2,521.6 L650.1,534.1 L652.0,541.5 L653.9,546.2 L655.8,553.7 L657.7,557.7 L659.6,564.3 L661.5,567.1 L663.4,563.3 L665.3,563.5 L667.2,565.6 L669.1,564.1 L671.0,574.5 L672.9,571.1 L674.8,578.2 L676.7,573.6 L678.6,582.4 L680.5,582.3 L682.4,572.6 L684.3,576.7 L686.2,587.2 L688.1,582.7 L690.0,590.5 L691.9,584.2 L693.8,581.2 L695.7,589.6 L697.6,592.6 L699.5,585.7 L701.4,583.1 L703.3,586.0 L705.2,592.9 L707.1,592.2 L706.9,592.0 " fill="none" stroke="#2F7BE0" stroke-width="1.35" stroke-linejoin="round"/>
<path d="M855.4,345.2 C851.4,345.9 836.1,348.5 828.9,350.0 C821.7,351.5 813.9,353.7 807.4,355.4 C800.9,357.1 792.4,359.4 785.9,361.2 C779.4,363.0 769.2,365.9 764.4,367.6 C759.6,369.3 756.9,370.8 753.7,372.6 C750.4,374.4 745.6,377.2 742.6,379.5 C739.6,381.8 736.0,385.1 733.6,387.6 C731.2,390.1 728.5,393.1 726.6,396.2 C724.7,399.3 722.4,404.3 721.0,408.0 C719.6,411.7 718.3,416.7 717.3,420.9 C716.3,425.1 715.1,431.1 714.5,435.9 C713.9,440.7 713.4,447.2 713.0,453.1 C712.6,459.0 712.1,468.8 711.7,475.0 C711.3,481.2 710.8,486.9 710.4,494.6 C710.0,502.3 709.2,517.1 708.8,526.6 C708.4,536.1 708.0,548.4 707.7,558.2 C707.4,568.0 707.0,586.9 706.9,592.0" fill="none" stroke="#2F7BE0" stroke-width="1.8" stroke-linejoin="round"/>
<path d="M648.2,521.0 L650.1,533.4 L652.0,541.0 L653.9,544.9 L655.8,552.1 L657.7,552.5 L659.6,559.1 L661.5,561.7 L663.4,559.7 L665.3,568.0 L667.2,561.6 L669.1,569.6 L671.0,564.0 L672.9,569.3 L674.8,568.0 L676.7,570.1 L678.6,580.6 L680.5,579.7 L682.4,574.6 L684.3,583.5 L686.2,576.1 L688.1,579.7 L690.0,586.9 L691.9,585.3 L693.8,579.5 L695.7,592.3 L697.6,583.3 L699.5,584.2 L701.4,591.1 L703.3,585.6 L705.2,585.6 L707.1,583.3 L707.9,592.0 " fill="none" stroke="#7DBB2A" stroke-width="1.35" stroke-linejoin="round"/>
<path d="M855.4,345.2 C851.4,345.9 836.1,348.5 828.9,350.0 C821.7,351.5 813.9,353.7 807.4,355.4 C800.9,357.1 792.4,359.4 785.9,361.2 C779.4,363.0 769.2,365.9 764.4,367.6 C759.6,369.3 756.9,370.8 753.7,372.6 C750.5,374.4 745.8,377.2 742.9,379.5 C739.9,381.8 736.4,385.1 734.1,387.6 C731.8,390.1 729.2,393.1 727.4,396.2 C725.6,399.3 723.4,404.3 722.0,408.0 C720.6,411.7 719.3,416.7 718.3,420.9 C717.3,425.1 716.1,431.1 715.5,435.9 C714.9,440.7 714.4,447.2 714.0,453.1 C713.6,459.0 713.1,468.8 712.7,475.0 C712.3,481.2 711.8,486.9 711.4,494.6 C711.0,502.3 710.2,517.1 709.8,526.6 C709.4,536.1 709.0,548.4 708.7,558.2 C708.4,568.0 708.0,586.9 707.9,592.0" fill="none" stroke="#7DBB2A" stroke-width="1.3" stroke-linejoin="round"/>
<path d="M648.2,520.9 L650.1,534.0 L652.0,541.2 L653.9,547.4 L655.8,549.3 L657.7,552.9 L659.6,562.8 L661.5,560.2 L663.4,562.7 L665.3,567.8 L667.2,560.2 L669.1,561.2 L671.0,572.3 L672.9,572.5 L674.8,566.5 L676.7,567.0 L678.6,575.5 L680.5,579.5 L682.4,571.2 L684.3,582.4 L686.2,582.8 L688.1,580.4 L690.0,579.3 L691.9,576.3 L693.8,576.7 L695.7,589.9 L697.6,581.7 L699.5,588.6 L701.4,583.6 L703.3,591.7 L705.2,589.5 L707.1,586.1 L708.3,592.0 " fill="none" stroke="#F2CC55" stroke-width="1.35" stroke-linejoin="round"/>
<path d="M855.4,345.2 C851.4,345.9 836.1,348.5 828.9,350.0 C821.7,351.5 813.9,353.7 807.4,355.4 C800.9,357.1 792.4,359.4 785.9,361.2 C779.4,363.0 769.2,365.9 764.4,367.6 C759.6,369.3 756.9,370.8 753.7,372.6 C750.5,374.4 745.9,377.2 743.0,379.5 C740.0,381.8 736.6,385.1 734.3,387.6 C732.0,390.1 729.5,393.1 727.7,396.2 C726.0,399.3 723.8,404.3 722.4,408.0 C721.0,411.7 719.7,416.7 718.7,420.9 C717.7,425.1 716.5,431.1 715.9,435.9 C715.3,440.7 714.8,447.2 714.4,453.1 C714.0,459.0 713.5,468.8 713.1,475.0 C712.7,481.2 712.2,486.9 711.8,494.6 C711.4,502.3 710.6,517.1 710.2,526.6 C709.8,536.1 709.4,548.4 709.1,558.2 C708.8,568.0 708.4,586.9 708.3,592.0" fill="none" stroke="#F2CC55" stroke-width="1.3" stroke-linejoin="round"/>
<path d="M648.2,521.1 L650.1,534.2 L652.0,540.9 L653.9,545.2 L655.8,549.3 L657.7,553.2 L659.6,556.0 L661.5,554.5 L663.4,564.1 L665.3,556.2 L667.2,555.1 L669.1,559.7 L671.0,563.3 L672.9,559.6 L674.8,562.5 L676.7,566.4 L678.6,570.4 L680.5,566.0 L682.4,570.4 L684.3,578.6 L686.2,581.1 L688.1,578.1 L690.0,579.8 L691.9,579.6 L693.8,575.0 L695.7,574.9 L697.6,575.9 L699.5,589.1 L701.4,588.0 L703.3,592.9 L705.2,582.0 L707.1,590.6 L708.8,592.0 " fill="none" stroke="#F07A78" stroke-width="1.35" stroke-linejoin="round"/>
<path d="M855.4,345.2 C851.4,345.9 836.1,348.5 828.9,350.0 C821.7,351.5 813.9,353.7 807.4,355.4 C800.9,357.1 792.4,359.4 785.9,361.2 C779.4,363.0 769.2,365.9 764.4,367.6 C759.6,369.3 756.9,370.8 753.7,372.6 C750.5,374.4 745.9,377.2 743.1,379.5 C740.2,381.8 736.8,385.1 734.6,387.6 C732.3,390.1 729.9,393.1 728.1,396.2 C726.4,399.3 724.2,404.3 722.9,408.0 C721.6,411.7 720.2,416.7 719.2,420.9 C718.2,425.1 717.0,431.1 716.4,435.9 C715.8,440.7 715.3,447.2 714.9,453.1 C714.5,459.0 714.0,468.8 713.6,475.0 C713.2,481.2 712.7,486.9 712.3,494.6 C711.9,502.3 711.1,517.1 710.7,526.6 C710.3,536.1 709.9,548.4 709.6,558.2 C709.3,568.0 708.9,586.9 708.8,592.0" fill="none" stroke="#F07A78" stroke-width="1.3" stroke-linejoin="round"/>
</g>
<path d="M648.1,589.9v-3.6M648.1,335.1v3.6M689.5,589.9v-3.6M689.5,335.1v3.6M730.9,589.9v-3.6M730.9,335.1v3.6M772.2,589.9v-3.6M772.2,335.1v3.6M813.6,589.9v-3.6M813.6,335.1v3.6M855.0,589.9v-3.6M855.0,335.1v3.6M668.8,589.9v-2.0M668.8,335.1v2.0M710.2,589.9v-2.0M710.2,335.1v2.0M751.5,589.9v-2.0M751.5,335.1v2.0M792.9,589.9v-2.0M792.9,335.1v2.0M834.3,589.9v-2.0M834.3,335.1v2.0M648.0999999999999,335.1h3.6M855.0,335.1h-3.6M648.0999999999999,367.0h3.6M855.0,367.0h-3.6M648.0999999999999,398.8h3.6M855.0,398.8h-3.6M648.0999999999999,430.7h3.6M855.0,430.7h-3.6M648.0999999999999,462.5h3.6M855.0,462.5h-3.6M648.0999999999999,494.4h3.6M855.0,494.4h-3.6M648.0999999999999,526.2h3.6M855.0,526.2h-3.6M648.0999999999999,558.1h3.6M855.0,558.1h-3.6M648.0999999999999,589.9h3.6M855.0,589.9h-3.6M648.0999999999999,357.4h2.0M855.0,357.4h-2.0M648.0999999999999,351.8h2.0M855.0,351.8h-2.0M648.0999999999999,347.8h2.0M855.0,347.8h-2.0M648.0999999999999,344.7h2.0M855.0,344.7h-2.0M648.0999999999999,342.2h2.0M855.0,342.2h-2.0M648.0999999999999,340.0h2.0M855.0,340.0h-2.0M648.0999999999999,338.2h2.0M855.0,338.2h-2.0M648.0999999999999,336.6h2.0M855.0,336.6h-2.0M648.0999999999999,389.2h2.0M855.0,389.2h-2.0M648.0999999999999,383.6h2.0M855.0,383.6h-2.0M648.0999999999999,379.6h2.0M855.0,379.6h-2.0M648.0999999999999,376.5h2.0M855.0,376.5h-2.0M648.0999999999999,374.0h2.0M855.0,374.0h-2.0M648.0999999999999,371.9h2.0M855.0,371.9h-2.0M648.0999999999999,370.0h2.0M855.0,370.0h-2.0M648.0999999999999,368.4h2.0M855.0,368.4h-2.0M648.0999999999999,421.1h2.0M855.0,421.1h-2.0M648.0999999999999,415.5h2.0M855.0,415.5h-2.0M648.0999999999999,411.5h2.0M855.0,411.5h-2.0M648.0999999999999,408.4h2.0M855.0,408.4h-2.0M648.0999999999999,405.9h2.0M855.0,405.9h-2.0M648.0999999999999,403.7h2.0M855.0,403.7h-2.0M648.0999999999999,401.9h2.0M855.0,401.9h-2.0M648.0999999999999,400.3h2.0M855.0,400.3h-2.0M648.0999999999999,452.9h2.0M855.0,452.9h-2.0M648.0999999999999,447.3h2.0M855.0,447.3h-2.0M648.0999999999999,443.3h2.0M855.0,443.3h-2.0M648.0999999999999,440.2h2.0M855.0,440.2h-2.0M648.0999999999999,437.7h2.0M855.0,437.7h-2.0M648.0999999999999,435.6h2.0M855.0,435.6h-2.0M648.0999999999999,433.7h2.0M855.0,433.7h-2.0M648.0999999999999,432.1h2.0M855.0,432.1h-2.0M648.0999999999999,484.8h2.0M855.0,484.8h-2.0M648.0999999999999,479.2h2.0M855.0,479.2h-2.0M648.0999999999999,475.2h2.0M855.0,475.2h-2.0M648.0999999999999,472.1h2.0M855.0,472.1h-2.0M648.0999999999999,469.6h2.0M855.0,469.6h-2.0M648.0999999999999,467.4h2.0M855.0,467.4h-2.0M648.0999999999999,465.6h2.0M855.0,465.6h-2.0M648.0999999999999,464.0h2.0M855.0,464.0h-2.0M648.0999999999999,516.6h2.0M855.0,516.6h-2.0M648.0999999999999,511.0h2.0M855.0,511.0h-2.0M648.0999999999999,507.0h2.0M855.0,507.0h-2.0M648.0999999999999,503.9h2.0M855.0,503.9h-2.0M648.0999999999999,501.4h2.0M855.0,501.4h-2.0M648.0999999999999,499.3h2.0M855.0,499.3h-2.0M648.0999999999999,497.4h2.0M855.0,497.4h-2.0M648.0999999999999,495.8h2.0M855.0,495.8h-2.0M648.0999999999999,548.5h2.0M855.0,548.5h-2.0M648.0999999999999,542.9h2.0M855.0,542.9h-2.0M648.0999999999999,538.9h2.0M855.0,538.9h-2.0M648.0999999999999,535.8h2.0M855.0,535.8h-2.0M648.0999999999999,533.3h2.0M855.0,533.3h-2.0M648.0999999999999,531.1h2.0M855.0,531.1h-2.0M648.0999999999999,529.3h2.0M855.0,529.3h-2.0M648.0999999999999,527.7h2.0M855.0,527.7h-2.0M648.0999999999999,580.3h2.0M855.0,580.3h-2.0M648.0999999999999,574.7h2.0M855.0,574.7h-2.0M648.0999999999999,570.7h2.0M855.0,570.7h-2.0M648.0999999999999,567.6h2.0M855.0,567.6h-2.0M648.0999999999999,565.1h2.0M855.0,565.1h-2.0M648.0999999999999,563.0h2.0M855.0,563.0h-2.0M648.0999999999999,561.1h2.0M855.0,561.1h-2.0M648.0999999999999,559.5h2.0M855.0,559.5h-2.0" stroke="#8c8c8c" stroke-width="0.9" fill="none"/>
<rect x="648.0999999999999" y="335.1" width="206.9000000000001" height="254.79999999999995" fill="none" stroke="#8c8c8c" stroke-width="1.0"/>
<text x="643.5999999999999" y="341.922" font-size="17.2" text-anchor="end" font-weight="normal" font-style="normal" fill="#1a1a1a" >10<tspan font-size="66%" dy="-0.606em">-5</tspan><tspan dy="0.400em">&#8203;</tspan></text>
<text x="643.5999999999999" y="373.77200000000005" font-size="17.2" text-anchor="end" font-weight="normal" font-style="normal" fill="#1a1a1a" >10<tspan font-size="66%" dy="-0.606em">-6</tspan><tspan dy="0.400em">&#8203;</tspan></text>
<text x="643.5999999999999" y="405.622" font-size="17.2" text-anchor="end" font-weight="normal" font-style="normal" fill="#1a1a1a" >10<tspan font-size="66%" dy="-0.606em">-7</tspan><tspan dy="0.400em">&#8203;</tspan></text>
<text x="643.5999999999999" y="437.47200000000004" font-size="17.2" text-anchor="end" font-weight="normal" font-style="normal" fill="#1a1a1a" >10<tspan font-size="66%" dy="-0.606em">-8</tspan><tspan dy="0.400em">&#8203;</tspan></text>
<text x="643.5999999999999" y="469.32200000000006" font-size="17.2" text-anchor="end" font-weight="normal" font-style="normal" fill="#1a1a1a" >10<tspan font-size="66%" dy="-0.606em">-9</tspan><tspan dy="0.400em">&#8203;</tspan></text>
<text x="643.5999999999999" y="501.172" font-size="17.2" text-anchor="end" font-weight="normal" font-style="normal" fill="#1a1a1a" >10<tspan font-size="66%" dy="-0.606em">-10</tspan><tspan dy="0.400em">&#8203;</tspan></text>
<text x="643.5999999999999" y="533.022" font-size="17.2" text-anchor="end" font-weight="normal" font-style="normal" fill="#1a1a1a" >10<tspan font-size="66%" dy="-0.606em">-11</tspan><tspan dy="0.400em">&#8203;</tspan></text>
<text x="643.5999999999999" y="564.872" font-size="17.2" text-anchor="end" font-weight="normal" font-style="normal" fill="#1a1a1a" >10<tspan font-size="66%" dy="-0.606em">-12</tspan><tspan dy="0.400em">&#8203;</tspan></text>
<text x="643.5999999999999" y="596.722" font-size="17.2" text-anchor="end" font-weight="normal" font-style="normal" fill="#1a1a1a" >10<tspan font-size="66%" dy="-0.606em">-13</tspan><tspan dy="0.400em">&#8203;</tspan></text>
<text x="647.3" y="606.8" font-size="16.8" text-anchor="middle" font-weight="normal" font-style="normal" fill="#1a1a1a" >-6</text>
<text x="688.68" y="606.8" font-size="16.8" text-anchor="middle" font-weight="normal" font-style="normal" fill="#1a1a1a" >-4</text>
<text x="730.06" y="606.8" font-size="16.8" text-anchor="middle" font-weight="normal" font-style="normal" fill="#1a1a1a" >-2</text>
<text x="772.2399999999999" y="606.8" font-size="16.8" text-anchor="middle" font-weight="normal" font-style="normal" fill="#1a1a1a" >0</text>
<text x="813.6199999999999" y="606.8" font-size="16.8" text-anchor="middle" font-weight="normal" font-style="normal" fill="#1a1a1a" >2</text>
<text x="854.9999999999999" y="606.8" font-size="16.8" text-anchor="middle" font-weight="normal" font-style="normal" fill="#1a1a1a" >4</text>
<text x="751.4" y="637.4" font-size="21.8" text-anchor="middle" font-weight="normal" font-style="normal" fill="#1a1a1a" >V<tspan font-size="66%" dy="0.364em">G</tspan><tspan dy="-0.240em">&#8203;</tspan> (V)</text>
<text x="0" y="0" font-size="22.3" text-anchor="middle" font-weight="normal" font-style="normal" fill="#1a1a1a" transform="translate(599.0,462.5) rotate(-90)">I<tspan font-size="66%" dy="0.364em">D</tspan><tspan dy="-0.240em">&#8203;</tspan> (A)</text>
<text x="582.7" y="340.8" font-size="25.4" text-anchor="start" font-weight="normal" font-style="normal" fill="#111" >(e)</text>
<text x="654.4" y="356.6" font-size="20.8" text-anchor="start" font-weight="bold" font-style="normal" fill="#111" >IGeO</text>
<text x="654.8" y="381.3" font-size="20.4" text-anchor="start" font-weight="normal" font-style="normal" fill="#1a1a1a" >NBS</text>
<text x="852.6" y="429.9" font-size="18.3" text-anchor="end" font-weight="normal" font-style="normal" fill="#1a1a1a" >V<tspan font-size="66%" dy="0.364em">G</tspan><tspan dy="-0.240em">&#8203;</tspan> = -4 V</text>
<text x="852.6" y="455.0" font-size="17.9" text-anchor="end" font-weight="normal" font-style="normal" fill="#E0242C" >&#916;V<tspan font-size="66%" dy="0.364em">th</tspan><tspan dy="-0.240em">&#8203;</tspan> = -0.11 V</text>
<line x1="745.0" y1="475.6" x2="784.4" y2="475.6" stroke="#B68AE8" stroke-width="1.6"/>
<text x="788.8" y="481.70000000000005" font-size="17.4" text-anchor="start" font-weight="normal" font-style="normal" fill="#1a1a1a" >3600 s</text>
<line x1="745.0" y1="497.0" x2="784.4" y2="497.0" stroke="#2F7BE0" stroke-width="2.0"/>
<text x="788.8" y="503.1" font-size="17.4" text-anchor="start" font-weight="normal" font-style="normal" fill="#1a1a1a" >1000 s</text>
<line x1="745.0" y1="518.4" x2="784.4" y2="518.4" stroke="#7DBB2A" stroke-width="1.6"/>
<text x="788.8" y="524.5" font-size="17.4" text-anchor="start" font-weight="normal" font-style="normal" fill="#1a1a1a" >100 s</text>
<line x1="745.0" y1="539.8" x2="784.4" y2="539.8" stroke="#F2CC55" stroke-width="1.6"/>
<text x="788.8" y="545.9" font-size="17.4" text-anchor="start" font-weight="normal" font-style="normal" fill="#1a1a1a" >10 s</text>
<line x1="745.0" y1="561.2" x2="784.4" y2="561.2" stroke="#F07A78" stroke-width="1.6"/>
<text x="788.8" y="567.3000000000001" font-size="17.4" text-anchor="start" font-weight="normal" font-style="normal" fill="#1a1a1a" >0 s</text>
<rect x="924.5" y="332.8" width="309.7" height="249.2" fill="#fff"/>
<polygon points="924.5,450.2 1069,332.8 1234.2,332.8 1234.2,454.8 1073,582.0 924.5,582.0" fill="#E5EAF6"/>
<path d="M938.9,582.0v-4.8M938.9,332.8v4.8M1086.4,582.0v-4.8M1086.4,332.8v4.8M1233.9,582.0v-4.8M1233.9,332.8v4.8M924.6,582.0v-2.6M924.6,332.8v2.6M932.2,582.0v-2.6M932.2,332.8v2.6M983.3,582.0v-2.6M983.3,332.8v2.6M1009.3,582.0v-2.6M1009.3,332.8v2.6M1027.7,582.0v-2.6M1027.7,332.8v2.6M1042.0,582.0v-2.6M1042.0,332.8v2.6M1053.7,582.0v-2.6M1053.7,332.8v2.6M1063.6,582.0v-2.6M1063.6,332.8v2.6M1072.1,582.0v-2.6M1072.1,332.8v2.6M1079.7,582.0v-2.6M1079.7,332.8v2.6M1130.8,582.0v-2.6M1130.8,332.8v2.6M1156.8,582.0v-2.6M1156.8,332.8v2.6M1175.2,582.0v-2.6M1175.2,332.8v2.6M1189.5,582.0v-2.6M1189.5,332.8v2.6M1201.2,582.0v-2.6M1201.2,332.8v2.6M1211.1,582.0v-2.6M1211.1,332.8v2.6M1219.6,582.0v-2.6M1219.6,332.8v2.6M1227.2,582.0v-2.6M1227.2,332.8v2.6M932.2,582.0v-2.6M932.2,332.8v2.6M924.5,499.2h4.8M1234.2,499.2h-4.8M924.5,416.0h4.8M1234.2,416.0h-4.8M924.5,367.3h4.8M1234.2,367.3h-4.8M924.5,332.8h4.8M1234.2,332.8h-4.8M924.5,560.5h2.6M1234.2,560.5h-2.6M924.5,542.0h2.6M1234.2,542.0h-2.6M924.5,526.0h2.6M1234.2,526.0h-2.6M924.5,511.9h2.6M1234.2,511.9h-2.6M924.5,485.1h2.6M1234.2,485.1h-2.6M924.5,472.4h2.6M1234.2,472.4h-2.6M924.5,461.0h2.6M1234.2,461.0h-2.6M924.5,450.5h2.6M1234.2,450.5h-2.6M924.5,440.9h2.6M1234.2,440.9h-2.6M924.5,432.0h2.6M1234.2,432.0h-2.6M924.5,423.8h2.6M1234.2,423.8h-2.6M924.5,407.7h2.6M1234.2,407.7h-2.6M924.5,400.0h2.6M1234.2,400.0h-2.6M924.5,392.6h2.6M1234.2,392.6h-2.6M924.5,385.9h2.6M1234.2,385.9h-2.6M924.5,379.3h2.6M1234.2,379.3h-2.6M924.5,373.3h2.6M1234.2,373.3h-2.6M924.5,360.9h2.6M1234.2,360.9h-2.6M924.5,354.6h2.6M1234.2,354.6h-2.6M924.5,348.8h2.6M1234.2,348.8h-2.6M924.5,343.3h2.6M1234.2,343.3h-2.6M924.5,337.9h2.6M1234.2,337.9h-2.6" stroke="#3a3a3a" stroke-width="1.1" fill="none"/>
<rect x="924.5" y="332.8" width="309.7" height="249.2" fill="none" stroke="#3a3a3a" stroke-width="1.4"/>
<text x="918.8" y="505.10938160304875" font-size="16.3" text-anchor="end" font-weight="normal" font-style="normal" fill="#1a1a1a" >20</text>
<text x="918.8" y="421.90469080152434" font-size="16.3" text-anchor="end" font-weight="normal" font-style="normal" fill="#1a1a1a" >40</text>
<text x="918.8" y="373.2330667985341" font-size="16.3" text-anchor="end" font-weight="normal" font-style="normal" fill="#1a1a1a" >60</text>
<text x="918.8" y="338.7" font-size="16.3" text-anchor="end" font-weight="normal" font-style="normal" fill="#1a1a1a" >80</text>
<text x="938.9" y="600.9" font-size="16.3" text-anchor="middle" font-weight="normal" font-style="normal" fill="#1a1a1a" >10</text>
<text x="1086.4" y="600.9" font-size="16.3" text-anchor="middle" font-weight="normal" font-style="normal" fill="#1a1a1a" >100</text>
<text x="1234.4" y="600.9" font-size="16.3" text-anchor="middle" font-weight="normal" font-style="normal" fill="#1a1a1a" >1000</text>
<polygon points="1034.6,631.2 1047.6,631.2 1041.1,619.4" fill="none" stroke="#1a1a1a" stroke-width="1.3" stroke-linejoin="miter"/>
<text x="1048.6" y="631.8" font-size="21.6" text-anchor="start" font-weight="normal" font-style="normal" fill="#1a1a1a" >V<tspan font-size="66%" dy="0.364em">th</tspan><tspan dy="-0.240em">&#8203;</tspan> (mV)</text>
<text x="0" y="0" font-size="22.3" text-anchor="middle" font-weight="normal" font-style="normal" fill="#1a1a1a" transform="translate(889.7,457.3) rotate(-90)">&#956;<tspan font-size="66%" dy="0.364em">FE</tspan><tspan dy="-0.240em">&#8203;</tspan> ( cm<tspan font-size="62%" dy="-0.645em">2</tspan><tspan dy="0.400em">&#8203;</tspan> V<tspan font-size="62%" dy="-0.645em">&#8722;1</tspan><tspan dy="0.400em">&#8203;</tspan> s<tspan font-size="62%" dy="-0.645em">&#8722;1</tspan><tspan dy="0.400em">&#8203;</tspan>)</text>
<text x="872.0" y="341.5" font-size="26.2" text-anchor="start" font-weight="normal" font-style="normal" fill="#111" >(f)</text>
<polygon points="939.00,355.00 940.94,358.93 945.28,359.56 942.14,362.62 942.88,366.94 939.00,364.90 935.12,366.94 935.86,362.62 932.72,359.56 937.06,358.93" fill="#F5101A" stroke="#F5101A" stroke-width="1.6" stroke-linejoin="round"/>
<text x="948.5" y="356.8" font-size="11.6" text-anchor="start" font-weight="bold" font-style="normal" fill="#F5101A" >InGeO</text>
<text x="948.5" y="370.5" font-size="11.6" text-anchor="start" font-weight="bold" font-style="normal" fill="#F5101A" >This Work</text>
<polygon points="1001.4,387.6 1009.3,400.4 993.7,400.4" fill="#36A866" stroke="#36A866" stroke-width="0.8" stroke-linejoin="round"/>
<text x="986.7" y="411" font-size="10.3" text-anchor="start" font-weight="bold" font-style="normal" fill="#1c1c28" >[1] InZnO</text>
<polygon points="1079.80,351.20 1081.68,355.01 1085.89,355.62 1082.84,358.59 1083.56,362.78 1079.80,360.80 1076.04,362.78 1076.76,358.59 1073.71,355.62 1077.92,355.01" fill="#000" stroke="#000" stroke-width="1.6" stroke-linejoin="round"/>
<text x="1048.2" y="363.9" font-size="10.4" text-anchor="start" font-weight="bold" font-style="normal" fill="#1c1c28" >In<tspan font-size="66%" dy="0.303em">2</tspan><tspan dy="-0.200em">&#8203;</tspan>O<tspan font-size="66%" dy="0.303em">3</tspan><tspan dy="-0.200em">&#8203;</tspan></text>
<text x="1048.2" y="375.5" font-size="10.2" text-anchor="start" font-weight="bold" font-style="normal" fill="#1c1c28" >this Work</text>
<polygon points="1098.30,344.00 1102.54,346.45 1102.54,351.35 1098.30,353.80 1094.06,351.35 1094.06,346.45" fill="#fff" stroke="#EC1486" stroke-width="2.8" stroke-linejoin="round"/>
<text x="1108.1" y="352.3" font-size="10.3" text-anchor="start" font-weight="bold" font-style="normal" fill="#1c1c28" >[5] ITZO</text>
<polygon points="1175.4,368.6 1181.3,376.8 1169.5,376.8" fill="#EFEAF8" stroke="#C9A3EA" stroke-width="2.2" stroke-linejoin="miter"/>
<text x="1162.5" y="365.2" font-size="10.3" text-anchor="start" font-weight="bold" font-style="normal" fill="#1c1c28" >[6] IGZO</text>
<polygon points="1220.10,369.00 1226.76,373.84 1224.21,381.66 1215.99,381.66 1213.44,373.84" fill="#8C8D14"/>
<text x="1185.8" y="392.5" font-size="10.3" text-anchor="start" font-weight="bold" font-style="normal" fill="#1c1c28" >[7] InGaO</text>
<polygon points="1137.1,393.9 1145.1,401.7 1137.1,409.5 1129.1,401.7" fill="#F8690F" stroke="none" stroke-width="0" stroke-linejoin="miter"/>
<text x="1124.5" y="417.8" font-size="10.3" text-anchor="start" font-weight="bold" font-style="normal" fill="#1c1c28" >[3] InZnO</text>
<polygon points="1117.4,420.09999999999997 1125.4,427.9 1117.4,435.7 1109.4,427.9" fill="#F8690F" stroke="none" stroke-width="0" stroke-linejoin="miter"/>
<text x="1101.2" y="445.8" font-size="10.3" text-anchor="start" font-weight="bold" font-style="normal" fill="#1c1c28" >[3] InZnO</text>
<polygon points="969.1,480.0 977.1,487.8 969.1,495.6 961.1,487.8" fill="#F8690F" stroke="none" stroke-width="0" stroke-linejoin="miter"/>
<text x="950.7" y="505" font-size="10.3" text-anchor="start" font-weight="bold" font-style="normal" fill="#1c1c28" >[3] InZnO</text>
<circle cx="986.4" cy="456.1" r="5.9" fill="#1F6FE6"/>
<text x="966.8" y="470.2" font-size="10.3" text-anchor="start" font-weight="bold" font-style="normal" fill="#1c1c28" >[2] InGaO</text>
<rect x="1025" y="445.2" width="11.2" height="10.9" fill="#FFD02C"/>
<text x="1013.9" y="465.9" font-size="10.3" text-anchor="start" font-weight="bold" font-style="normal" fill="#1c1c28" >[4] InGaO</text>
<polygon points="1086.7,452.8 1092.9,459 1086.7,465.2 1080.5,459" fill="#fff" stroke="#4A1C8C" stroke-width="2.6" stroke-linejoin="miter"/>
<text x="1072.9" y="476" font-size="10.3" text-anchor="start" font-weight="bold" font-style="normal" fill="#1c1c28" >[8] InWO</text>
<circle cx="1162.9" cy="454" r="4.7" fill="#fff" stroke="#C8A008" stroke-width="2.8"/>
<circle cx="1042.2" cy="497.8" r="4.7" fill="#fff" stroke="#C8A008" stroke-width="2.8"/>
<circle cx="1009" cy="554.4" r="4.7" fill="#fff" stroke="#C8A008" stroke-width="2.8"/>
<text x="1147" y="470.4" font-size="10.3" text-anchor="start" font-weight="bold" font-style="normal" fill="#1c1c28" >[9] InGaO</text>
<text x="1030.7" y="513.1" font-size="10.3" text-anchor="start" font-weight="bold" font-style="normal" fill="#1c1c28" >[9] InGaO</text>
<text x="996.6" y="570.1" font-size="10.3" text-anchor="start" font-weight="bold" font-style="normal" fill="#1c1c28" >[9] InGaOF</text>
<polygon points="1130.3,515.5 1148.6,516 1143.6,520.3 1155.6,533.8 1146.5,540.8 1135,527.9 1130,532.2" fill="#fff" stroke="#4472C4" stroke-width="1.8" stroke-linejoin="miter"/>
<text x="1167.1" y="559.0" font-size="12.7" text-anchor="middle" font-weight="bold" font-style="italic" fill="#4472C4" >Mobility/reliability</text>
<text x="1166.7" y="574.1" font-size="12.8" text-anchor="middle" font-weight="bold" font-style="italic" fill="#4472C4" >tradeoff region</text>
</svg>
</body></html>
